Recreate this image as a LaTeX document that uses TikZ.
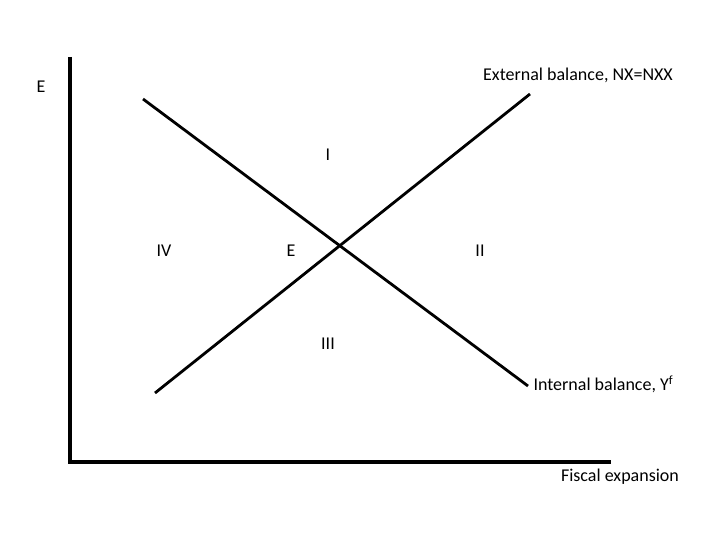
\documentclass[tikz,border=0pt]{standalone}
\usepackage{fontspec}
\setmainfont{Carlito}
\usepackage{tikz}
\usetikzlibrary{calc}
\tikzset{curve/.style={line width=2.8pt}}
\tikzset{axis/.style={line width=3.2pt}}

\begin{document}
\begin{tikzpicture}[x=1pt,y=-1pt,font=\fontsize{18}{21}\selectfont]
    \useasboundingbox (0,0) rectangle (720,540);

    \coordinate (o) at (70,462);
    \coordinate (ytop) at (70,57);
    \coordinate (xend) at (611,462);
    \draw[axis] (ytop) -- (o) -- (xend);

    \coordinate (ext1) at (155,393);
    \coordinate (ext2) at (530,94);
    \coordinate (int1) at (143,99);
    \coordinate (int2) at (528,386);
    \draw[curve] (ext1) -- (ext2);
    \draw[curve] (int1) -- (int2);

    \node at (41,87) (ylab){E};
    \node at (578,75) (extlab){External balance, NX=NXX};
    \node[anchor=west] at (530,384) (intlab){Internal balance, Y\textsuperscript{f}};
    \node at (620,477) (xlab){Fiscal expansion};

    \node at (328,155) (r1){I};
    \node at (480,251) (r2){II};
    \node at (328,344) (r3){III};
    \node at (164,251) (r4){IV};
    \node at (291,251) (eq){E};
  \end{tikzpicture}
\end{document}
